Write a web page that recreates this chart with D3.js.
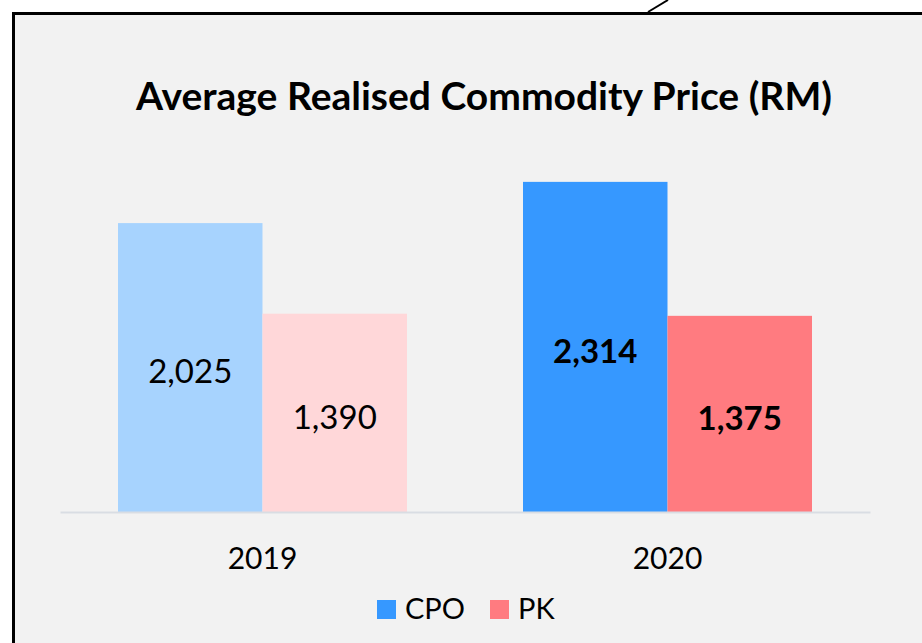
<!DOCTYPE html>
<html>
<head>
<meta charset="utf-8">
<script src="https://cdn.jsdelivr.net/npm/d3@7"></script>
<style>
  body { margin: 0; background: #fff; }
  svg { display: block; font-family: Lato, "Open Sans", sans-serif; }
</style>
</head>
<body>
<svg width="922" height="643"></svg>
<script>
// Data
const years = ["2019", "2020"];
const seriesNames = ["CPO", "PK"];
const cpoPrice = [2025, 2314];
const pkPrice = [1390, 1375];

const svg = d3.select("svg");
const width = +svg.attr("width");
const height = +svg.attr("height");

// colours: light shade for 2019, full shade for 2020
const shades = {
    CPO: ["#a7d3fe", "#3698ff"],
    PK: ["#ffd7d9", "#ff7b80"]
};

// chart area background and frame
svg.append("rect")
    .attr("x", 13).attr("y", 12)
    .attr("width", width - 13).attr("height", height - 12)
    .attr("fill", "#f2f2f2");
svg.append("path")
    .attr("d", `M13.5,${height} V13.5 H${width}`)
    .attr("fill", "none")
    .attr("stroke", "#000")
    .attr("stroke-width", 3);
// callout pointer
svg.append("line")
    .attr("x1", 648).attr("y1", 12)
    .attr("x2", 668).attr("y2", 0)
    .attr("stroke", "#000")
    .attr("stroke-width", 2);

// Title
svg.append("text")
    .attr("x", 484).attr("y", 110)
    .attr("text-anchor", "middle")
    .attr("font-weight", "bold")
    .attr("font-size", 39)
    .attr("fill", "#000")
    .text("Average Realised Commodity Price (RM)");

// Scales
const x0 = d3.scaleBand().domain(years).range([60, 870]);
const groupPad = (x0.bandwidth() - 289) / 2;
const x1 = d3.scaleBand().domain(seriesNames).range([groupPad, x0.bandwidth() - groupPad]);
const y = d3.scaleLinear().domain([0, 3000]).range([512, 84]);

const rows = years.map((yr, i) => ({
    year: yr,
    idx: i,
    values: [
        { key: "CPO", value: cpoPrice[i] },
        { key: "PK", value: pkPrice[i] }
    ]
}));

const groups = svg.append("g")
    .selectAll("g")
    .data(rows)
    .join("g")
    .attr("transform", d => `translate(${x0(d.year)},0)`);

groups.selectAll("rect")
    .data(d => d.values.map(v => ({ ...v, idx: d.idx })))
    .join("rect")
    .attr("x", d => x1(d.key))
    .attr("y", d => y(d.value))
    .attr("width", x1.bandwidth())
    .attr("height", d => y(0) - y(d.value))
    .attr("fill", d => shades[d.key][d.idx]);

groups.selectAll("text")
    .data(d => d.values.map(v => ({ ...v, idx: d.idx })))
    .join("text")
    .attr("x", d => x1(d.key) + x1.bandwidth() / 2)
    .attr("y", d => (y(d.value) + y(0)) / 2)
    .attr("dy", "0.48em")
    .attr("text-anchor", "middle")
    .attr("font-size", 33)
    .attr("font-weight", d => d.idx === 1 ? "bold" : "normal")
    .attr("fill", "#000")
    .text(d => d3.format(",")(d.value));

// x axis
const xAxis = svg.append("g")
    .attr("transform", `translate(0,${y(0)})`)
    .call(d3.axisBottom(x0).tickSize(0).tickPadding(36));
xAxis.select(".domain")
    .attr("stroke", "#d9dde3")
    .attr("stroke-width", 2);
xAxis.selectAll("text")
    .attr("font-family", "Lato, 'Open Sans', sans-serif")
    .attr("font-size", 30)
    .attr("fill", "#000")
    .attr("dy", "0.71em");

// Legend
const legend = svg.append("g")
    .selectAll("g")
    .data(seriesNames)
    .join("g")
    .attr("transform", (d, i) => `translate(${377 + i * 113},600)`);
legend.append("rect")
    .attr("width", 19).attr("height", 19)
    .attr("fill", d => shades[d][1]);
legend.append("text")
    .attr("x", 28).attr("y", 19)
    .attr("font-size", 29)
    .attr("fill", "#000")
    .text(d => d);
</script>
</body>
</html>
